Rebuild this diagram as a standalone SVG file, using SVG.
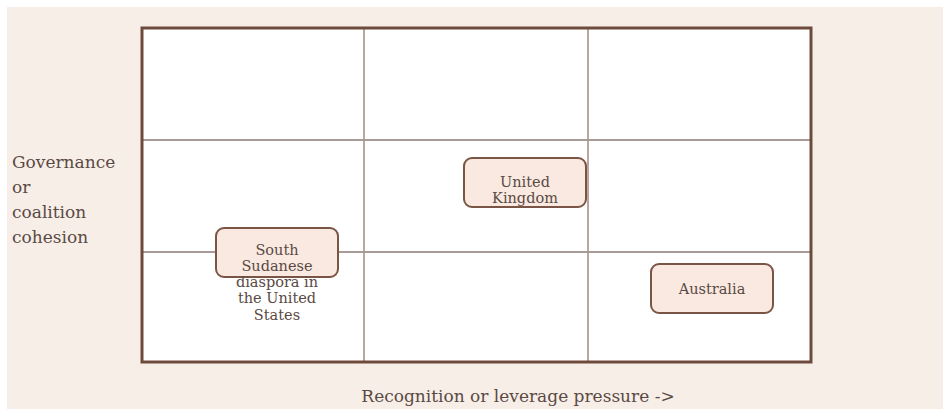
<svg xmlns="http://www.w3.org/2000/svg" width="943" height="412" viewBox="0 0 943 412">
<style>
.lbl{font-family:"DejaVu Serif","Liberation Serif",serif;font-size:14.5px;fill:#5a4a44;}
.axis{font-family:"DejaVu Serif","Liberation Serif",serif;font-size:17px;fill:#5a4a44;}
.node{fill:#f9e9e1;stroke:#7a5444;stroke-width:2;}
.grid{stroke:#8a6a5c;stroke-width:1.2;fill:none;}
.hgrid{stroke:#a89a96;stroke-width:2;fill:none;}
</style>
<rect x="0" y="0" width="943" height="412" fill="#ffffff"/>
<rect x="7" y="7" width="936" height="402" fill="#f8eee8"/>
<g id="grid">
<rect x="142" y="28" width="669" height="334" fill="#ffffff"/>
<line class="grid" x1="364" y1="28" x2="364" y2="362"/>
<line class="grid" x1="588" y1="28" x2="588" y2="362"/>
<line class="hgrid" x1="142" y1="140" x2="811" y2="140"/>
<line class="hgrid" x1="142" y1="252" x2="811" y2="252"/>
<rect x="142" y="28" width="669" height="334" fill="none" stroke="#6e4a3c" stroke-width="3"/>
</g>
<g id="connectors"></g>
<g id="south-sudanese">
<rect class="node" x="216" y="228" width="122" height="49" rx="8"/>
<text class="lbl" text-anchor="middle" x="277" y="255">South</text>
<text class="lbl" text-anchor="middle" x="277" y="271">Sudanese</text>
<text class="lbl" text-anchor="middle" x="277" y="287">diaspora in</text>
<text class="lbl" text-anchor="middle" x="277" y="303">the United</text>
<text class="lbl" text-anchor="middle" x="277" y="320">States</text>
</g>
<g id="united-kingdom">
<rect class="node" x="464" y="158" width="122" height="49" rx="8"/>
<text class="lbl" text-anchor="middle" x="525" y="187">United</text>
<text class="lbl" text-anchor="middle" x="525" y="203">Kingdom</text>
</g>
<g id="australia">
<rect class="node" x="651" y="264" width="122" height="49" rx="8"/>
<text class="lbl" text-anchor="middle" x="712" y="294">Australia</text>
</g>
<g id="y-axis-label">
<text class="axis" x="12" y="168">Governance</text>
<text class="axis" x="12" y="193">or</text>
<text class="axis" x="12" y="218">coalition</text>
<text class="axis" x="12" y="243">cohesion</text>
</g>
<g id="x-axis-label">
<text class="axis" text-anchor="middle" x="518" y="402">Recognition or leverage pressure -&gt;</text>
</g>
</svg>
